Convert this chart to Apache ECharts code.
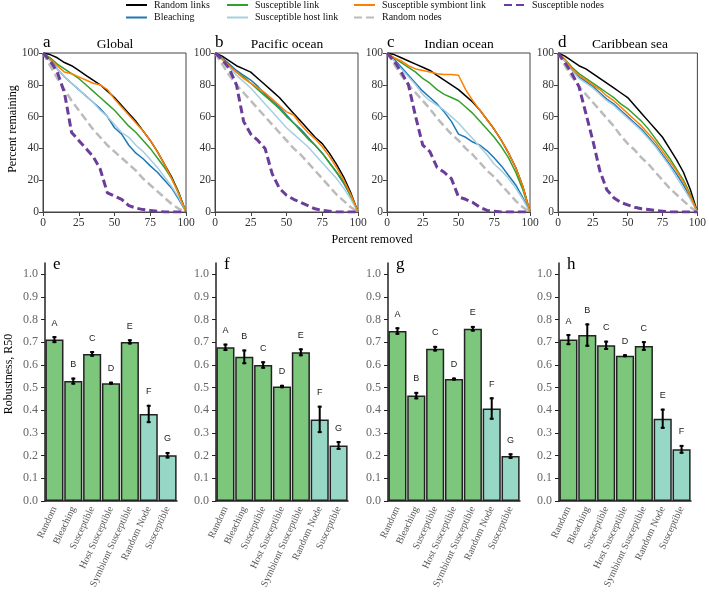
<!DOCTYPE html>
<html>
<head>
<meta charset="utf-8">
<script src="https://cdn.jsdelivr.net/npm/echarts@6/dist/echarts.min.js"></script>
<style>
html, body { margin: 0; padding: 0; background: #fff; }
#chart { width: 709px; height: 593px; }
</style>
</head>
<body>
<div id="chart"></div>
<script>
// percent of links / nodes removed (x of the top panels)
var pctRemoved = [0, 5, 10, 15, 20, 25, 30, 35, 40, 45, 50, 55, 60, 65, 70, 75, 80, 85, 90, 95, 100];
var curveNames = ['Random links', 'Bleaching', 'Susceptible link', 'Susceptible host link',
  'Susceptible symbiont link', 'Random nodes', 'Susceptible nodes'];

// a - Global
var globalRandom    = [100, 99, 97, 94, 92, 89, 86, 83, 80, 76, 72, 67, 62, 57, 51, 45, 38, 30, 22, 12, 0];
var globalBleach    = [100, 96, 90, 85, 81, 77, 73, 69, 65, 60, 53, 49, 42, 37, 33.5, 29, 25, 20, 15, 8, 0];
var globalSuscLink  = [100, 97, 93, 90, 87, 84, 80, 76, 72, 68, 64, 59, 54, 50, 45, 40, 34, 28, 21, 12, 0];
var globalHostLink  = [100, 95, 90, 85, 81, 77, 73, 69, 64, 60, 55, 50, 47, 42, 38, 33, 28, 22, 16, 9, 0];
var globalSymbLink  = [100, 96, 92, 88, 87, 85, 83, 81, 80, 77, 71, 66, 61, 56, 51, 45, 38, 30, 21, 11, 0];
var globalRandNodes = [100, 92, 84, 77, 70, 64, 58, 52, 47, 42, 38, 34, 30, 26, 21, 17, 13, 9, 5, 2, 0];
var globalSuscNodes = [100, 95, 88, 75, 50, 45, 40, 35, 27, 12, 10, 8, 4, 2.5, 1.5, 1, 0.5, 0, 0, 0, 0];

// b - Pacific ocean
var pacificRandom    = [100, 98, 95, 92, 90, 88, 84, 80, 76, 72, 67, 62, 57, 52, 47, 43, 37, 30, 22, 12, 0];
var pacificBleach    = [100, 97, 93, 89, 86, 83, 79, 74, 70, 66, 61, 56, 52, 47, 42, 37, 31, 25, 18, 10, 0];
var pacificSuscLink  = [100, 96, 92, 88, 85, 81, 77, 73, 69, 65, 60, 56, 51, 46, 42, 37, 31, 25, 19, 10, 0];
var pacificHostLink  = [100, 96, 91, 86, 82, 78, 73, 68, 63, 58, 53, 49, 45, 41, 36, 31, 26, 21, 15, 8, 0];
var pacificSymbLink  = [100, 96, 92, 88, 84, 81, 78, 75, 71, 67, 63, 61, 55, 50, 46, 41, 35, 28, 20, 11, 0];
var pacificRandNodes = [100, 93, 86, 80, 75, 70, 65, 60, 55, 50, 45, 40, 36, 31, 26, 21, 16, 11, 7, 3, 0];
var pacificSuscNodes = [100, 96, 90, 80, 57, 49, 45, 40, 24, 15, 10.5, 8, 6, 4, 2, 1, 0.5, 0, 0, 0, 0];

// c - Indian ocean
var indianRandom    = [100, 99, 97, 95, 93, 91, 89, 86, 83, 80, 77, 73, 69, 64, 58, 52, 45, 37, 28, 16, 0];
var indianBleach    = [100, 96, 91, 86, 81, 76, 72, 68, 63, 57, 49, 47, 44, 42, 38.5, 34, 29, 23, 17, 9, 0];
var indianSuscLink  = [100, 97, 94, 91, 88, 84, 81, 77, 74, 72, 70, 66, 62, 57, 52, 47, 41, 34, 25, 14, 0];
var indianHostLink  = [100, 95, 90, 85, 80, 74, 70, 67, 64, 60, 56, 51, 46, 41, 36, 30, 26, 21, 15, 8, 0];
var indianSymbLink  = [100, 97, 95, 92, 90, 89, 88, 87, 86.5, 86.5, 86, 77, 70, 64, 58, 52, 45, 37, 28, 16, 0];
var indianRandNodes = [100, 93, 86, 80, 75, 70, 65, 59, 54, 49, 45, 40, 36, 31, 26, 22, 17, 12, 7, 3, 0];
var indianSuscNodes = [100, 95, 88, 80, 60, 42, 38, 28, 25, 21, 9.5, 8, 6, 3, 1, 0.5, 0, 0, 0, 0, 0];

// d - Caribbean sea
var caribRandom    = [100, 98, 95, 92, 90, 87, 84, 81, 78, 75, 72, 67, 62, 57, 52, 47, 40, 33, 25, 14, 0];
var caribBleach    = [100, 95, 90, 85, 82, 79, 75, 71, 68, 64, 60, 56, 52, 47, 42, 36, 30, 24, 17, 9, 0];
var caribSuscLink  = [100, 96, 91, 87, 84, 81, 78, 75, 72, 68, 65, 61, 57, 52, 46, 40, 34, 27, 20, 11, 0];
var caribHostLink  = [100, 95, 89, 84, 81, 78, 74, 70, 67, 63, 59, 55, 51, 46, 41, 35, 29, 22, 15, 8, 0];
var caribSymbLink  = [100, 96, 90, 86, 83, 80, 77, 73, 70, 66, 62, 58, 54, 49, 44, 38, 32, 26, 19, 10, 0];
var caribRandNodes = [100, 92, 85, 79, 74, 69, 64, 59, 54, 48, 43, 39, 34, 30, 25, 20, 15, 11, 7, 3, 0];
var caribSuscNodes = [100, 94, 87, 79, 62, 45, 26, 14, 9, 6, 4.5, 3, 2, 1.5, 1, 0.5, 0, 0, 0, 0, 0];

// bottom panels: robustness R50
var barCats = ['Random', 'Bleaching', 'Susceptible', 'Host Susceptible', 'Symbiont Susceptible', 'Random Node', 'Susceptible'];
var r50Ticks = [0, 0.1, 0.2, 0.3, 0.4, 0.5, 0.6, 0.7, 0.8, 0.9, 1.0];

var globalR50 = [0.712, 0.529, 0.649, 0.520, 0.702, 0.384, 0.202];
var globalErr = [0.011, 0.011, 0.008, 0.002, 0.007, 0.036, 0.010];
var globalLetters = ['A', 'B', 'C', 'D', 'E', 'F', 'G'];

var pacificR50 = [0.678, 0.636, 0.600, 0.505, 0.656, 0.360, 0.245];
var pacificErr = [0.012, 0.028, 0.012, 0.003, 0.013, 0.056, 0.015];
var pacificLetters = ['A', 'B', 'C', 'D', 'E', 'F', 'G'];

var indianR50 = [0.750, 0.465, 0.672, 0.538, 0.760, 0.408, 0.198];
var indianErr = [0.012, 0.012, 0.008, 0.002, 0.008, 0.045, 0.008];
var indianLetters = ['A', 'B', 'C', 'D', 'E', 'F', 'G'];

var caribR50 = [0.712, 0.732, 0.687, 0.641, 0.684, 0.363, 0.228];
var caribErr = [0.020, 0.047, 0.016, 0.002, 0.017, 0.040, 0.015];
var caribLetters = ['A', 'B', 'C', 'D', 'C', 'E', 'F'];

var lineColors = ['#000000', '#1f78b4', '#33a02c', '#a6cee3', '#ff7f00', '#bbbbbb', '#6a3d9a'];
var serif = '"Liberation Serif", "DejaVu Serif", serif';

var panels = [
  { title: 'Global', letter: 'a', curves: [globalRandom, globalBleach, globalSuscLink, globalHostLink, globalSymbLink, globalRandNodes, globalSuscNodes],
    letter2: 'e', r50: globalR50, err: globalErr, letters: globalLetters },
  { title: 'Pacific ocean', letter: 'b', curves: [pacificRandom, pacificBleach, pacificSuscLink, pacificHostLink, pacificSymbLink, pacificRandNodes, pacificSuscNodes],
    letter2: 'f', r50: pacificR50, err: pacificErr, letters: pacificLetters },
  { title: 'Indian ocean', letter: 'c', curves: [indianRandom, indianBleach, indianSuscLink, indianHostLink, indianSymbLink, indianRandNodes, indianSuscNodes],
    letter2: 'g', r50: indianR50, err: indianErr, letters: indianLetters },
  { title: 'Caribbean sea', letter: 'd', curves: [caribRandom, caribBleach, caribSuscLink, caribHostLink, caribSymbLink, caribRandNodes, caribSuscNodes],
    letter2: 'h', r50: caribR50, err: caribErr, letters: caribLetters }
];

var topLefts = [43, 215, 387, 558];
var botLefts = [45, 216, 388, 559];

var myChart = echarts.init(document.getElementById('chart'));

var grids = [], xAxes = [], yAxes = [], series = [], graphics = [];

// top line panels
panels.forEach(function (p, k) {
  grids.push({ left: topLefts[k], top: 53, width: 143, height: 159, show: true, borderColor: '#444', borderWidth: 1 });
  xAxes.push({
    type: 'value', gridIndex: k, min: 0, max: 100, interval: 25,
    axisLine: { lineStyle: { color: '#444' } },
    axisTick: { length: 4, lineStyle: { color: '#444' } },
    axisLabel: { color: '#333', fontFamily: serif, fontSize: 11.5, margin: 5 },
    splitLine: { show: false }
  });
  yAxes.push({
    type: 'value', gridIndex: k, min: 0, max: 100, interval: 20,
    axisLine: { show: true, lineStyle: { color: '#444' } },
    axisTick: { show: true, length: 4, lineStyle: { color: '#444' } },
    axisLabel: { color: '#333', fontFamily: serif, fontSize: 11.5, margin: 4 },
    splitLine: { show: false }
  });
  p.curves.forEach(function (vals, c) {
    var dashed = c >= 5;
    series.push({
      name: curveNames[c], type: 'line', xAxisIndex: k, yAxisIndex: k,
      data: pctRemoved.map(function (x, i) { return [x, vals[i]]; }),
      symbol: 'none', smooth: false,
      lineStyle: {
        color: lineColors[c],
        width: c === 6 ? 3 : (c === 5 ? 2.5 : 1.5),
        type: dashed ? [8, 4] : 'solid'
      },
      itemStyle: { color: lineColors[c] },
      z: 2 + c
    });
  });
  graphics.push({ type: 'text', left: topLefts[k], top: 34, style: { text: p.letter, font: '17px ' + serif, fill: '#000' } });
  graphics.push({ type: 'text', x: topLefts[k] + 72, y: 44, style: { text: p.title, font: '13.5px ' + serif, fill: '#000', align: 'center', verticalAlign: 'middle' } });
});

// bottom bar panels
panels.forEach(function (p, k) {
  var g = 4 + k;
  grids.push({ left: botLefts[k], top: 263, width: 132, height: 238 });
  xAxes.push({
    type: 'category', gridIndex: g, data: barCats,
    axisLine: { lineStyle: { color: '#222', width: 1.5 } },
    axisTick: { alignWithLabel: true, length: 4, lineStyle: { color: '#222' } },
    axisLabel: { color: '#555', fontFamily: serif, fontSize: 10, rotate: 65, margin: 6, interval: 0 }
  });
  yAxes.push({
    type: 'value', gridIndex: g, min: 0, max: 1.05,
    axisLine: { show: true, lineStyle: { color: '#222', width: 1.5 } },
    axisTick: { show: true, length: 4, lineStyle: { color: '#222' }, customValues: r50Ticks },
    axisLabel: { color: '#666', fontFamily: serif, fontSize: 12, margin: 7, customValues: r50Ticks,
      formatter: function (v) { return v.toFixed(1); } },
    splitLine: { show: false }
  });
  series.push({
    type: 'bar', xAxisIndex: g, yAxisIndex: g, barCategoryGap: '4%',
    data: p.r50.map(function (v, i) {
      return { value: v, itemStyle: { color: i < 5 ? '#7dc77d' : '#97d7c6' } };
    }),
    itemStyle: { borderColor: '#222', borderWidth: 1.5 }
  });
  series.push({
    type: 'custom', xAxisIndex: g, yAxisIndex: g, z: 5,
    data: p.r50.map(function (v, i) { return [i, v, p.err[i]]; }),
    encode: { x: 0, y: 1 },
    renderItem: function (params, api) {
      var i = api.value(0), m = api.value(1), e = api.value(2);
      var lo = api.coord([i, m - e]), hi = api.coord([i, m + e]);
      var x = lo[0];
      return {
        type: 'group', children: [
          { type: 'line', shape: { x1: x, y1: lo[1] + 1, x2: x, y2: hi[1] - 1 }, style: { stroke: '#000', lineWidth: 2 } },
          { type: 'line', shape: { x1: x - 2, y1: lo[1], x2: x + 2, y2: lo[1] }, style: { stroke: '#000', lineWidth: 2 } },
          { type: 'line', shape: { x1: x - 2, y1: hi[1], x2: x + 2, y2: hi[1] }, style: { stroke: '#000', lineWidth: 2 } },
          { type: 'text', style: { text: p.letters[params.dataIndex], x: x, y: hi[1] - 14, align: 'center', verticalAlign: 'middle',
            font: '9px "Liberation Sans", sans-serif', fill: '#222' } }
        ]
      };
    }
  });
  graphics.push({ type: 'text', left: botLefts[k] + 8, top: 256, style: { text: p.letter2, font: '17px ' + serif, fill: '#000' } });
});

graphics.push({ type: 'text', x: 13, y: 129, rotation: Math.PI / 2, style: { text: 'Percent remaining', font: '12px ' + serif, fill: '#000', align: 'center', verticalAlign: 'middle' } });
graphics.push({ type: 'text', x: 372, y: 240, style: { text: 'Percent removed', font: '12px ' + serif, fill: '#000', align: 'center', verticalAlign: 'middle' } });
graphics.push({ type: 'text', x: 9, y: 374, rotation: Math.PI / 2, style: { text: 'Robustness, R50', font: '12px ' + serif, fill: '#000', align: 'center', verticalAlign: 'middle' } });

var legendCols = [
  { left: 125, names: ['Random links', 'Bleaching'] },
  { left: 226, names: ['Susceptible link', 'Susceptible host link'] },
  { left: 353, names: ['Susceptible symbiont link', 'Random nodes'] },
  { left: 503, names: ['Susceptible nodes'] }
];
var legends = legendCols.map(function (c) {
  return {
    left: c.left, top: 0, orient: 'vertical', padding: 0, itemGap: 2.5,
    itemWidth: 21, itemHeight: 10, data: c.names,
    itemStyle: { opacity: 0, color: 'transparent', borderColor: 'transparent' },
    textStyle: { fontFamily: serif, fontSize: 10, color: '#111', padding: [0, 0, 0, 2] }
  };
});

var option = {
  animation: false,
  backgroundColor: '#fff',
  legend: legends,
  grid: grids,
  xAxis: xAxes,
  yAxis: yAxes,
  series: series,
  graphic: graphics
};
myChart.setOption(option);
</script>
</body>
</html>
